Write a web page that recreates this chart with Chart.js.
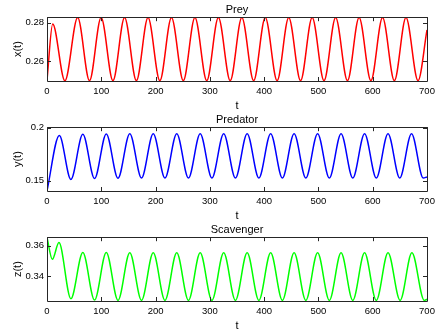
<!DOCTYPE html>
<html>
<head>
<meta charset="utf-8">
<script src="https://cdn.jsdelivr.net/npm/chart.js@4.4.1/dist/chart.umd.min.js"></script>
<style>
  body { margin: 0; background: #fff; }
  #wrap { position: relative; width: 444px; height: 335px; }
  #wrap canvas { position: absolute; left: 0; }
</style>
</head>
<body>
<div id="wrap">
  <canvas id="preyChart" width="444" height="113" style="top:0"></canvas>
  <canvas id="predChart" width="444" height="113" style="top:110px"></canvas>
  <canvas id="scavChart" width="444" height="113" style="top:220px"></canvas>
</div>
<script>
// turning points of each population, read as (t, value)
const preyT = [0, 10.5, 33, 56.5, 78.3, 99.7, 121.5, 142.9, 164.7, 186.1, 207.9, 229.3, 251.1, 272.5, 294.3,
  315.7, 337.5, 358.9, 380.7, 402.1, 423.9, 445.3, 467.1, 488.5, 510.3, 531.7, 553.5, 574.9, 596.7,
  618.1, 639.9, 661.3, 683.5, 700];
const preyX = [0.2500, 0.2793, 0.2497, 0.2826, 0.2498, 0.2826, 0.2498, 0.2826, 0.2498, 0.2826, 0.2498,
  0.2826, 0.2498, 0.2826, 0.2498, 0.2826, 0.2498, 0.2826, 0.2498, 0.2826, 0.2498, 0.2826, 0.2498,
  0.2826, 0.2498, 0.2826, 0.2498, 0.2826, 0.2498, 0.2826, 0.2498, 0.2826, 0.2498, 0.2762];

const predT = [0, 22.7, 44, 66, 87.6, 109.2, 130.8, 152.5, 174.1, 195.7, 217.3, 239, 260.6, 282.2, 303.8,
  325.5, 347.1, 368.7, 390.3, 412, 433.6, 455.2, 476.8, 498.5, 520.1, 541.7, 563.3, 585, 606.6,
  628.2, 649.8, 671.5, 693.1, 700];
const predY = [0.1405, 0.1927, 0.1512, 0.1938, 0.1520, 0.1942, 0.1524, 0.1944, 0.1526, 0.1944, 0.1526,
  0.1944, 0.1526, 0.1944, 0.1526, 0.1944, 0.1526, 0.1944, 0.1526, 0.1944, 0.1526, 0.1944, 0.1526,
  0.1944, 0.1526, 0.1944, 0.1526, 0.1944, 0.1526, 0.1944, 0.1526, 0.1944, 0.1526, 0.1535];

const scavT = [0, 9.8, 22, 44, 66, 87.6, 109.2, 130.8, 152.5, 174.1, 195.7, 217.3, 239, 260.6, 282.2,
  303.8, 325.5, 347.1, 368.7, 390.3, 412, 433.6, 455.2, 476.8, 498.5, 520.1, 541.7, 563.3, 585,
  606.6, 628.2, 650.5, 672.2, 695, 700];
const scavZ = [0.3653, 0.3510, 0.3620, 0.3252, 0.3555, 0.3243, 0.3555, 0.3241, 0.3553, 0.3241, 0.3553,
  0.3241, 0.3553, 0.3241, 0.3553, 0.3241, 0.3553, 0.3241, 0.3553, 0.3241, 0.3553, 0.3241, 0.3553,
  0.3241, 0.3553, 0.3241, 0.3553, 0.3241, 0.3553, 0.3241, 0.3553, 0.3241, 0.3553, 0.3241, 0.3248];

const tTicks = [0, 100, 200, 300, 400, 500, 600, 700];
const preyTicks = [0.26, 0.28];
const predTicks = [0.15, 0.2];
const scavTicks = [0.34, 0.36];

const FONT = '"Liberation Sans", Arial, Helvetica, sans-serif';
const INK = '#262626';

// box around the axes with inward ticks on all four sides
const axesBox = {
    id: 'axesBox',
    afterDatasetsDraw(chart) {
        const { ctx, chartArea: a, scales: { x, y } } = chart;
        const len = 4;
        ctx.save();
        ctx.strokeStyle = INK;
        ctx.lineWidth = 1;
        ctx.beginPath();
        ctx.rect(Math.round(a.left) + 0.5, Math.round(a.top) + 0.5,
                 Math.round(a.right) - Math.round(a.left), Math.round(a.bottom) - Math.round(a.top));
        x.ticks.forEach(t => {
            const px = Math.round(x.getPixelForValue(t.value)) + 0.5;
            ctx.moveTo(px, a.bottom); ctx.lineTo(px, a.bottom - len);
            ctx.moveTo(px, a.top); ctx.lineTo(px, a.top + len);
        });
        y.ticks.forEach(t => {
            const py = Math.round(y.getPixelForValue(t.value)) + 0.5;
            ctx.moveTo(a.left, py); ctx.lineTo(a.left + len, py);
            ctx.moveTo(a.right, py); ctx.lineTo(a.right - len, py);
        });
        ctx.stroke();
        ctx.restore();
    }
};

function makePanel(id, title, yLabel, ts, vs, color, yMin, yMax, yTicks) {
    return new Chart(document.getElementById(id), {
        type: 'line',
        data: {
            datasets: [{
                data: ts.map((t, i) => ({ x: t, y: vs[i] })),
                borderColor: color,
                borderWidth: 1.5,
                pointRadius: 0,
                fill: false,
                cubicInterpolationMode: 'monotone'
            }]
        },
        options: {
            responsive: false,
            animation: false,
            events: [],
            layout: { padding: { top: 0, right: 17, left: 0, bottom: 0 } },
            plugins: {
                legend: { display: false },
                tooltip: { enabled: false },
                title: {
                    display: true,
                    text: title,
                    fullSize: false,
                    color: '#000',
                    font: { family: FONT, size: 11, weight: 'normal' },
                    padding: { top: 3, bottom: 1 }
                }
            },
            scales: {
                x: {
                    type: 'linear',
                    min: 0,
                    max: 700,
                    afterBuildTicks: s => { s.ticks = tTicks.map(v => ({ value: v })); },
                    afterFit: s => { s.height = 32; },
                    grid: { display: false, drawTicks: false },
                    border: { display: false },
                    ticks: {
                        color: '#000', padding: 5, maxRotation: 0, autoSkip: false,
                        font: { family: FONT, size: 9.5 }
                    },
                    title: {
                        display: true, text: 't', color: '#000', padding: 0,
                        font: { family: FONT, size: 11 }
                    }
                },
                y: {
                    type: 'linear',
                    min: yMin,
                    max: yMax,
                    afterBuildTicks: s => { s.ticks = yTicks.map(v => ({ value: v })); },
                    afterFit: s => { s.width = 47; },
                    grid: { display: false, drawTicks: false },
                    border: { display: false },
                    ticks: {
                        color: '#000', padding: 3,
                        font: { family: FONT, size: 9.5 },
                        callback: v => String(+v.toFixed(3))
                    },
                    title: {
                        display: true, text: yLabel, color: '#000', padding: { top: 11 },
                        font: { family: FONT, size: 11 }
                    }
                }
            }
        },
        plugins: [axesBox]
    });
}

makePanel('preyChart', 'Prey', 'x(t)', preyT, preyX, '#ff0000', 0.2496, 0.2828, preyTicks);
makePanel('predChart', 'Predator', 'y(t)', predT, predY, '#0000ff', 0.1403, 0.2005, predTicks);
makePanel('scavChart', 'Scavenger', 'z(t)', scavT, scavZ, '#00ff00', 0.3237, 0.3655, scavTicks);
</script>
</body>
</html>
